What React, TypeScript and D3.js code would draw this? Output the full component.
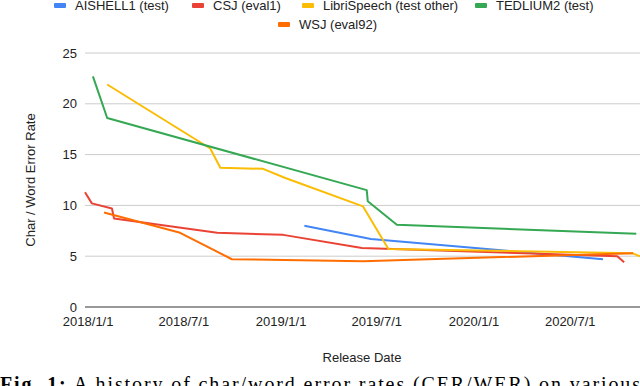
import React from "react";
import * as d3 from "d3";

// series: [date, error rate]
const aishell1: [string, number][] = [
  ["2019-02-14", 8.0],
  ["2019-06-20", 6.7],
  ["2020-09-01", 4.7],
];
const csj: [string, number][] = [
  ["2017-12-26", 11.3],
  ["2018-01-08", 10.2],
  ["2018-02-15", 9.7],
  ["2018-02-19", 8.7],
  ["2018-09-02", 7.3],
  ["2019-01-05", 7.1],
  ["2019-06-03", 5.8],
  ["2020-09-28", 5.0],
  ["2020-10-11", 4.4],
];
const librispeech: [string, number][] = [
  ["2018-02-06", 21.9],
  ["2018-08-20", 15.6],
  ["2018-09-08", 13.7],
  ["2018-11-28", 13.6],
  ["2019-01-09", 12.7],
  ["2019-06-05", 9.9],
  ["2019-07-23", 5.7],
  ["2020-10-26", 5.3],
  ["2020-11-10", 5.0],
];
const tedlium2: [string, number][] = [
  ["2018-01-10", 22.7],
  ["2018-02-06", 18.6],
  ["2019-06-12", 11.5],
  ["2019-06-14", 10.4],
  ["2019-08-08", 8.1],
  ["2020-11-03", 7.2],
];
const wsj: [string, number][] = [
  ["2018-01-31", 9.3],
  ["2018-06-24", 7.3],
  ["2018-09-30", 4.7],
  ["2019-06-05", 4.5],
  ["2020-10-28", 5.3],
];

const seriesNames = [
  "AISHELL1 (test)",
  "CSJ (eval1)",
  "LibriSpeech (test other)",
  "TEDLIUM2 (test)",
  "WSJ (eval92)",
];
const seriesColors = ["#4285F4", "#EA4335", "#FBBC04", "#34A853", "#FF6D01"];
const seriesData = [aishell1, csj, librispeech, tedlium2, wsj];

const xTicks = ["2018-01-01", "2018-07-01", "2019-01-01", "2019-07-01", "2020-01-01", "2020-07-01"];
const yTicks = [0, 5, 10, 15, 20, 25];

// legend layout (row, swatch x)
const legendPos = [
  { x: 54, y: 10 },
  { x: 192, y: 10 },
  { x: 302, y: 10 },
  { x: 475, y: 10 },
  { x: 278, y: 29 },
];

const parse = (s: string) => {
  const [y, m, d] = s.split("-").map(Number);
  return new Date(y, m - 1, d);
};
const fmt = d3.timeFormat("%Y/%-m/%-d");

export default function App() {
  const W = 640;
  const H = 386;
  const font = "Arial, 'Liberation Sans', sans-serif";

  const x = d3
    .scaleTime()
    .domain([parse("2017-12-26"), parse("2020-11-10")])
    .range([85, 640]);
  const y = d3.scaleLinear().domain([0, 25]).range([307, 53]);

  const line = d3
    .line<[string, number]>()
    .x((d) => x(parse(d[0])))
    .y((d) => y(d[1]));

  return (
    <svg
      width={W}
      height={H}
      style={{ position: "absolute", left: 0, top: 0, background: "#fff" }}
      fontFamily={font}
    >
      {/* gridlines */}
      {yTicks.map((t) => (
        <g key={t}>
          <line
            x1={85}
            x2={W}
            y1={y(t)}
            y2={y(t)}
            stroke={t === 0 ? "#333" : "#ccc"}
            strokeWidth={1}
          />
          <text x={77} y={y(t) + 4.5} textAnchor="end" fontSize={13} fill="#222">
            {t}
          </text>
        </g>
      ))}

      {xTicks.map((t) => (
        <text key={t} x={x(parse(t))} y={326} textAnchor="middle" fontSize={13} fill="#222">
          {fmt(parse(t))}
        </text>
      ))}

      {/* lines */}
      {seriesData.map((s, i) => (
        <path
          key={i}
          d={line(s) || ""}
          fill="none"
          stroke={seriesColors[i]}
          strokeWidth={2}
          strokeLinejoin="round"
        />
      ))}

      {/* legend */}
      {seriesNames.map((n, i) => (
        <g key={n}>
          <rect
            x={legendPos[i].x}
            y={legendPos[i].y - 7}
            width={12}
            height={5}
            rx={1}
            fill={seriesColors[i]}
          />
          <text x={legendPos[i].x + 21} y={legendPos[i].y} fontSize={13} fill="#222">
            {n}
          </text>
        </g>
      ))}

      {/* axis titles */}
      <text
        transform={`translate(35,${(y(0) + y(25)) / 2}) rotate(-90)`}
        textAnchor="middle"
        fontSize={13}
        fill="#222"
      >
        Char / Word Error Rate
      </text>
      <text x={362} y={362} textAnchor="middle" fontSize={13} fill="#222">
        Release Date
      </text>

      {/* caption, cut off by the frame */}
      <text
        x={0}
        y={391}
        fontSize={20}
        fontFamily="'Liberation Serif', 'DejaVu Serif', serif"
        fill="#000"
        textLength={640}
        lengthAdjust="spacing"
      >
        <tspan fontWeight="bold">Fig. 1:</tspan> A history of char/word error rates (CER/WER) on various
      </text>
    </svg>
  );
}
